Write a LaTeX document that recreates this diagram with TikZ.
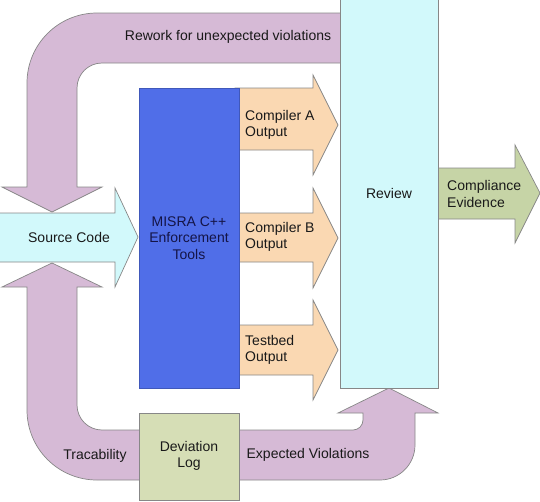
\documentclass[tikz,border=0pt]{standalone}
\usepackage{fontspec}
\setmainfont{Liberation Sans}
\definecolor{bandpurple}{RGB}{214,186,214}
\definecolor{lightcyan}{RGB}{210,249,251}
\definecolor{peach}{RGB}{250,216,178}
\definecolor{misrablue}{RGB}{80,110,232}
\definecolor{devgreen}{RGB}{214,222,182}
\definecolor{compgreen}{RGB}{198,212,166}
\definecolor{edgegray}{RGB}{135,135,135}
\definecolor{txt}{RGB}{25,25,25}
\begin{document}
\begin{tikzpicture}[x=1pt,y=-1pt,
  shapeline/.style={draw=edgegray,line width=0.7pt,line join=miter},
  band/.style={shapeline,fill=bandpurple},
  outarrow/.style={shapeline,fill=peach},
  lbl/.style={text=txt,font=\fontsize{14}{16.5}\selectfont,inner sep=0pt},
  lbll/.style={lbl,align=left,anchor=west},
  lblc/.style={lbl,align=center}]
\useasboundingbox (0,0) rectangle (540,501);
% rework band (top)
\path[band] (360,13) -- (97,13) .. controls (58.3,13) and (27,44.3) .. (27,83) -- (27,187) -- (2,187) -- (52,212) -- (102,187) -- (77,187) -- (77,88) .. controls (77,74.2) and (88.2,63) .. (102,63) -- (360,63) -- cycle;
% bottom band
\path[band] (52,263) -- (102,287) -- (77,287) -- (77,405) .. controls (77,418.8) and (88.2,430) .. (102,430) -- (353,430) .. controls (358.5,430) and (363,425.5) .. (363,420) -- (363,413) -- (338,413) -- (389,388) -- (438,413) -- (415,413) -- (415,445) .. controls (415,464.3) and (399.3,480) .. (380,480) -- (97,480) .. controls (58.3,480) and (27,448.7) .. (27,410) -- (27,287) -- (2,287) -- cycle;
% source code arrow
\path[shapeline,fill=lightcyan] (-2,213) -- (115,213) -- (115,188) -- (138,237) -- (115,287) -- (115,262) -- (-2,262) -- cycle;
% output arrows
\path[outarrow] (235,88) -- (313,88) -- (313,75) -- (338,125) -- (313,175) -- (313,150) -- (235,150) -- cycle;
\path[outarrow] (235,213) -- (313,213) -- (313,188) -- (338,238) -- (313,288) -- (313,262) -- (235,262) -- cycle;
\path[outarrow] (235,325) -- (313,325) -- (313,300) -- (338,350) -- (313,400) -- (313,375) -- (235,375) -- cycle;
% compliance arrow
\path[shapeline,fill=compgreen] (435,168) -- (515,168) -- (515,145) -- (540,193) -- (515,243) -- (515,219) -- (435,219) -- cycle;
% boxes
\path[draw=misrablue!80!black,line width=0.5pt,fill=misrablue] (139,88) rectangle (239,388);
\path[shapeline,fill=lightcyan] (340,-2) rectangle (438,388);
\path[shapeline,fill=devgreen] (139,413) rectangle (239,500);
% labels
\node[lblc] (rework) at (228,37) {Rework for unexpected violations};
\node[lbll] (compa) at (245,125) {Compiler A\\Output};
\node[lbll] (compb) at (245,237) {Compiler B\\Output};
\node[lbll] (testbed) at (245,350) {Testbed\\Output};
\node[lblc] (review) at (389,193) {Review};
\node[lbll] (compliance) at (447,194) {Compliance\\Evidence};
\node[lblc,text={rgb,255:red,20;green,20;blue,70}] (misra) at (189,238) {MISRA C++\\Enforcement\\Tools};
\node[lblc] (source) at (69,237) {Source Code};
\node[lblc] (trac) at (95,456) {Tracability};
\node[lblc] (deviation) at (189,456) {Deviation\\Log};
\node[lblc] (expected) at (308,455) {Expected Violations};
\end{tikzpicture}
\end{document}
